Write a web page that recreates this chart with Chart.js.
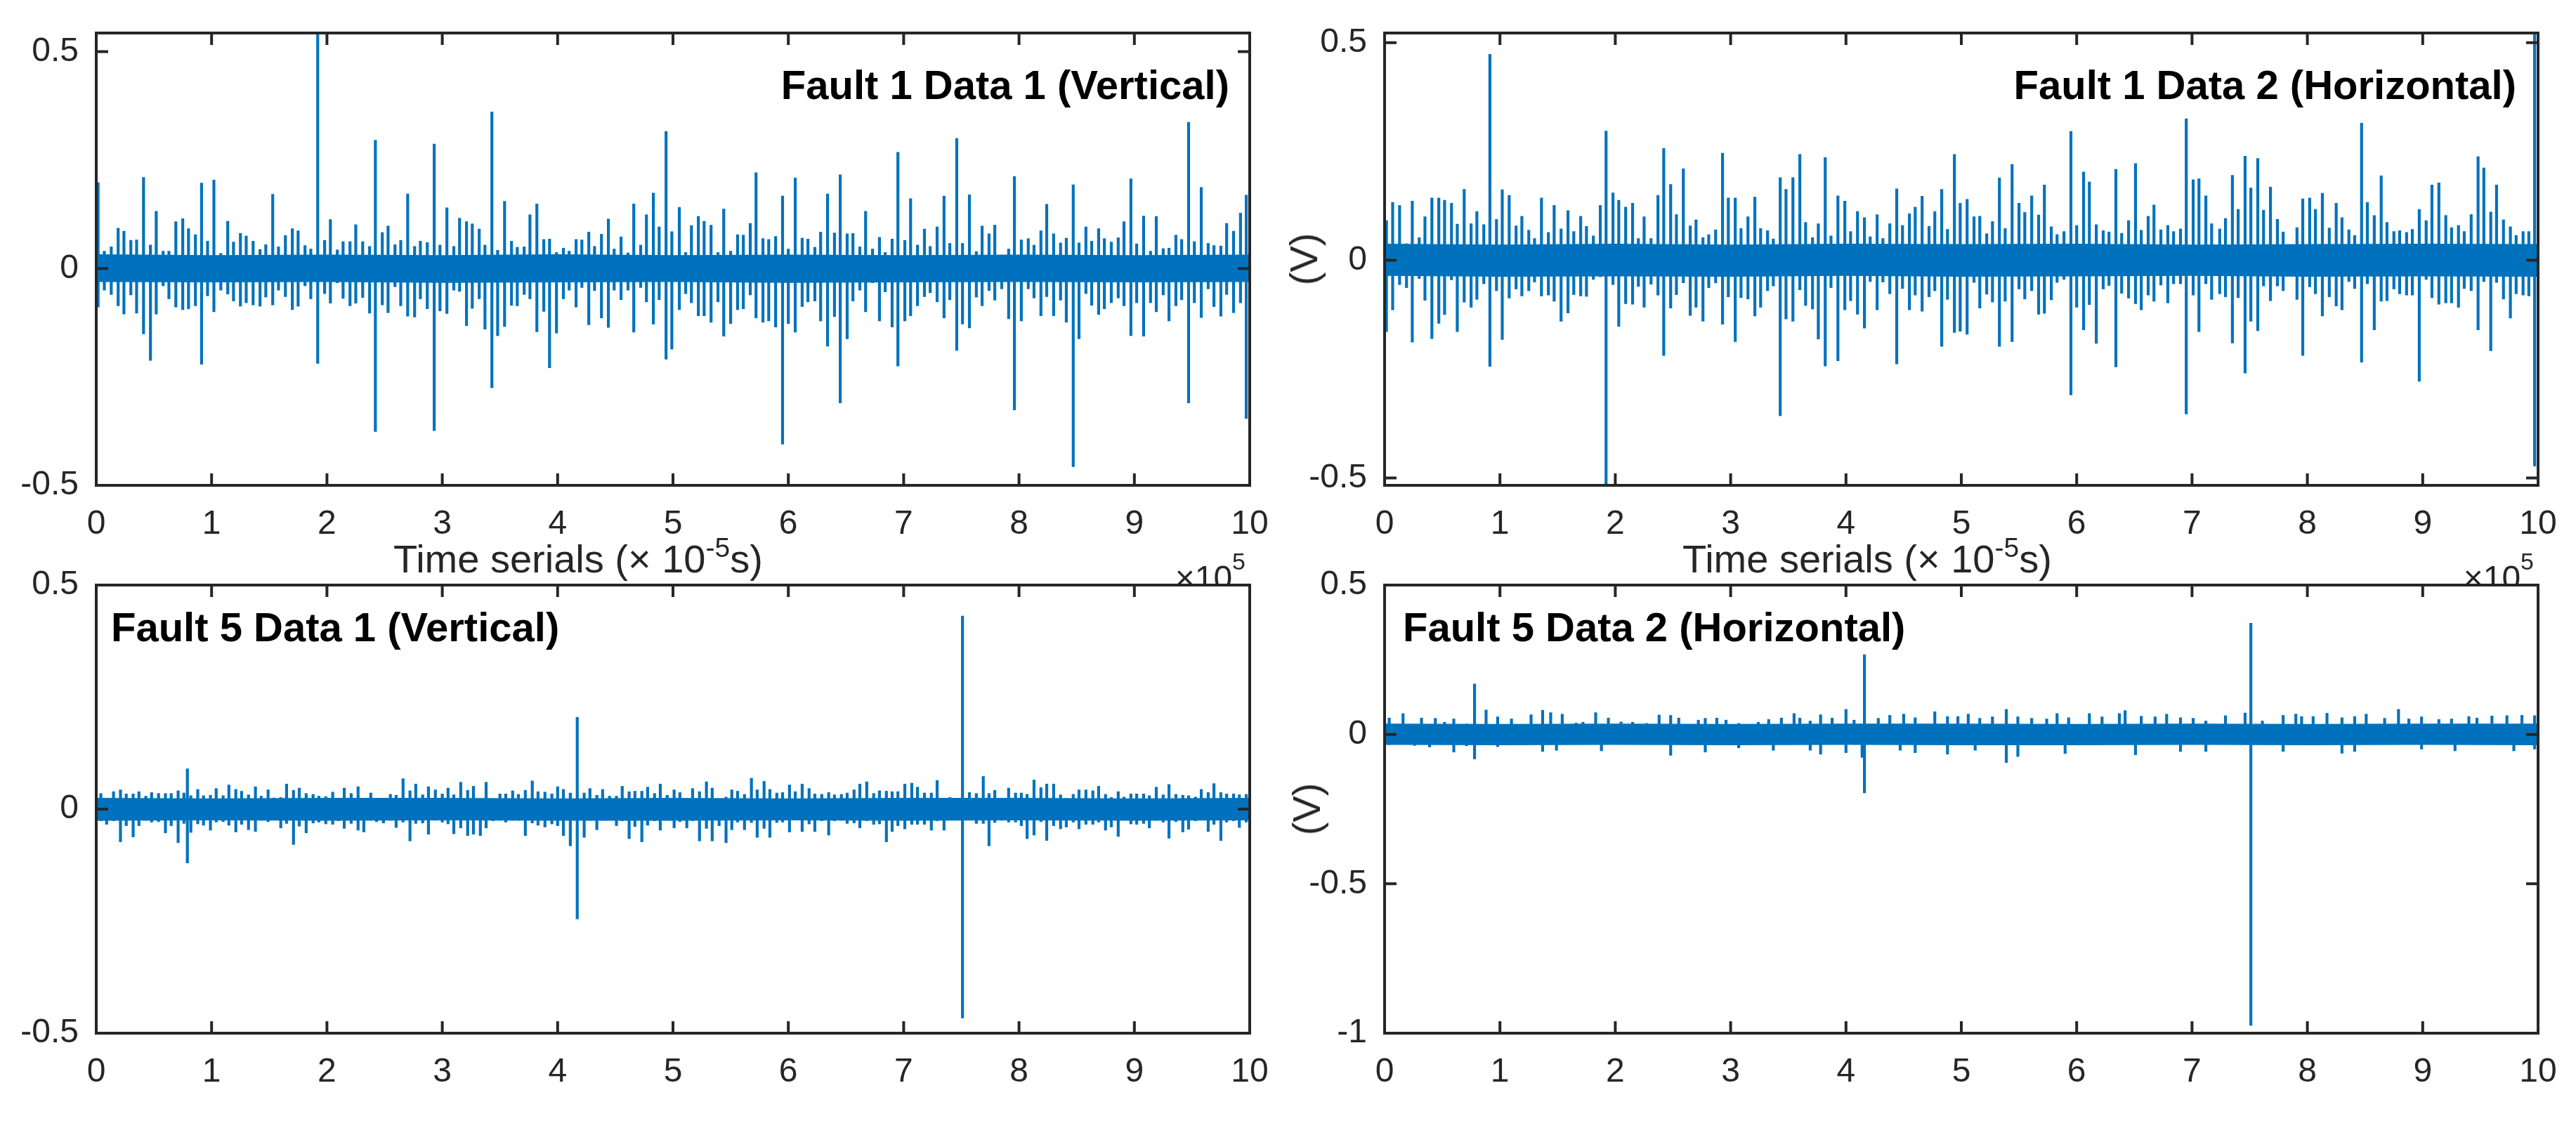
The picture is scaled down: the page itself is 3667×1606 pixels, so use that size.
<!DOCTYPE html>
<html>
<head>
<meta charset="utf-8">
<script src="https://cdn.jsdelivr.net/npm/chart.js@4.4.1/dist/chart.umd.min.js"></script>
<style>
html, body { margin: 0; padding: 0; background: #fff; overflow: hidden; }
#page { position: relative; width: 3667px; height: 1606px; font-family: "Liberation Sans", Arial, Helvetica, sans-serif; color: #262626; }
canvas { position: absolute; }
.title { position: absolute; font-weight: bold; font-size: 58px; line-height: 1; color: #000; white-space: nowrap; }
.xlabel { position: absolute; top: 768px; font-size: 56px; line-height: 1; white-space: nowrap; }
.xlabel .sup { position: relative; top: -22px; font-size: 39px; }
.ylabel { position: absolute; font-size: 56px; line-height: 1; white-space: nowrap; transform: translate(-50%, -50%) rotate(-90deg); }
.clip { position: absolute; left: 0; top: 700px; width: 3667px; height: 131px; overflow: hidden; }
.expo { position: absolute; top: 99px; font-size: 48px; line-height: 1; white-space: nowrap; }
.expo .sup { position: relative; top: -28px; font-size: 34px; }
</style>
</head>
<body>
<div id="page">
  <canvas id="f1d1" width="1833" height="800" style="left:0;top:0"></canvas>
  <canvas id="f1d2" width="1833" height="800" style="left:1834px;top:0"></canvas>
  <div class="clip">
    <div class="expo" style="right:1894px">×10<span class="sup">5</span></div>
    <div class="expo" style="right:60px">×10<span class="sup">5</span></div>
  </div>
  <canvas id="f5d1" width="1833" height="800" style="left:0;top:786px"></canvas>
  <canvas id="f5d2" width="1833" height="800" style="left:1834px;top:786px"></canvas>

  <div class="title" style="right:1917px;top:92px">Fault 1 Data 1 (Vertical)</div>
  <div class="title" style="right:85px;top:92px">Fault 1 Data 2 (Horizontal)</div>
  <div class="title" style="left:158px;top:864px">Fault 5 Data 1 (Vertical)</div>
  <div class="title" style="left:1997px;top:864px">Fault 5 Data 2 (Horizontal)</div>

  <div class="xlabel" style="left:560px">Time serials (× 10<span class="sup">-5</span>s)</div>
  <div class="xlabel" style="left:2395px">Time serials (× 10<span class="sup">-5</span>s)</div>
  <div class="ylabel" style="left:1856px;top:369px">(V)</div>
  <div class="ylabel" style="left:1860px;top:1152px">(V)</div>
</div>
<script>
const xTicks = [0, 1, 2, 3, 4, 5, 6, 7, 8, 9, 10];
const bandX = [0, 1, 2, 3, 4, 5, 6, 7, 8, 9, 10];

// Fault 1 Data 1 (Vertical): impulse positions (x10^5 samples), peak and trough
const f1d1X = [
  0.016, 0.07, 0.13, 0.19, 0.24, 0.30, 0.35, 0.41, 0.47, 0.52,
  0.58, 0.63, 0.69, 0.75, 0.80, 0.86, 0.913, 0.965, 1.02, 1.08,
  1.14, 1.19, 1.25, 1.30, 1.36, 1.42, 1.47, 1.53, 1.58, 1.64,
  1.70, 1.75, 1.81, 1.86, 1.92, 1.98, 2.03, 2.09, 2.14, 2.20,
  2.25, 2.31, 2.37, 2.42, 2.48, 2.53, 2.59, 2.64, 2.70, 2.76,
  2.81, 2.87, 2.93, 2.98, 3.04, 3.10, 3.15, 3.21, 3.26, 3.32,
  3.37, 3.43, 3.48, 3.54, 3.60, 3.65, 3.71, 3.76, 3.82, 3.88,
  3.93, 3.99, 4.05, 4.10, 4.16, 4.21, 4.27, 4.32, 4.38, 4.44,
  4.49, 4.55, 4.61, 4.66, 4.72, 4.77, 4.83, 4.88, 4.94, 4.99,
  5.055, 5.11, 5.16, 5.22, 5.27, 5.33, 5.39, 5.44, 5.50, 5.56,
  5.61, 5.67, 5.72, 5.78, 5.83, 5.89, 5.95, 6.00, 6.06, 6.12,
  6.17, 6.23, 6.28, 6.34, 6.40, 6.45, 6.51, 6.56, 6.62, 6.67,
  6.73, 6.79, 6.84, 6.90, 6.95, 7.01, 7.06, 7.12, 7.18, 7.23,
  7.29, 7.35, 7.40, 7.46, 7.51, 7.57, 7.63, 7.68, 7.74, 7.79,
  7.85, 7.91, 7.96, 8.02, 8.08, 8.13, 8.19, 8.24, 8.30, 8.36,
  8.41, 8.47, 8.52, 8.58, 8.63, 8.69, 8.74, 8.80, 8.86, 8.91,
  8.97, 9.02, 9.08, 9.14, 9.19, 9.25, 9.30, 9.36, 9.41, 9.47,
  9.52, 9.58, 9.64, 9.69, 9.75, 9.80, 9.86, 9.92, 9.97
];
const f1d1Hi = [
  .198, .040, .050, .093, .086, .065, .066, .210, .054, .132,
  .040, .040, .108, .115, .092, .078, .197, .063, .204, .035,
  .109, .061, .081, .075, .063, .044, .055, .171, .050, .076,
  .092, .087, .053, .045, .550, .065, .113, .043, .062, .062,
  .101, .062, .051, .296, .083, .098, .055, .065, .172, .051,
  .063, .060, .287, .054, .140, .051, .116, .108, .103, .091,
  .054, .361, .042, .155, .063, .049, .050, .124, .149, .067,
  .068, .037, .047, .040, .067, .066, .084, .051, .079, .114,
  .045, .073, .036, .149, .054, .124, .174, .096, .316, .085,
  .141, .037, .099, .120, .109, .100, .037, .137, .040, .078,
  .077, .104, .221, .069, .067, .074, .167, .045, .209, .070,
  .068, .049, .084, .172, .082, .216, .080, .081, .050, .132,
  .045, .072, .037, .068, .268, .065, .161, .054, .091, .051,
  .096, .167, .058, .300, .058, .170, .039, .098, .080, .100,
  .031, .045, .212, .066, .069, .054, .087, .148, .080, .059,
  .070, .193, .059, .096, .063, .092, .069, .061, .071, .108,
  .207, .057, .121, .040, .120, .046, .047, .077, .067, .337,
  .062, .187, .058, .053, .052, .104, .086, .128, .169
];
const f1d1Lo = [
  -.089, -.050, -.060, -.086, -.105, -.061, -.103, -.151, -.212, -.105,
  -.040, -.070, -.089, -.095, -.093, -.086, -.221, -.063, -.100, -.050,
  -.059, -.075, -.087, -.079, -.084, -.087, -.066, -.084, -.050, -.065,
  -.095, -.087, -.040, -.070, -.219, -.058, -.080, -.033, -.069, -.086,
  -.080, -.067, -.103, -.376, -.084, -.102, -.042, -.086, -.110, -.112,
  -.070, -.093, -.374, -.098, -.104, -.050, -.053, -.132, -.092, -.070,
  -.140, -.275, -.155, -.134, -.085, -.086, -.060, -.070, -.146, -.099,
  -.229, -.149, -.070, -.050, -.089, -.044, -.130, -.051, -.114, -.136,
  -.050, -.072, -.050, -.147, -.044, -.077, -.128, -.072, -.209, -.186,
  -.095, -.058, -.079, -.109, -.109, -.124, -.077, -.156, -.127, -.095,
  -.093, -.061, -.114, -.124, -.121, -.135, -.405, -.127, -.147, -.088,
  -.077, -.075, -.121, -.179, -.111, -.310, -.162, -.075, -.050, -.100,
  -.033, -.121, -.054, -.135, -.225, -.121, -.109, -.086, -.065, -.056,
  -.077, -.114, -.072, -.189, -.128, -.137, -.066, -.086, -.051, -.073,
  -.047, -.116, -.326, -.121, -.047, -.068, -.109, -.065, -.109, -.073,
  -.124, -.457, -.162, -.058, -.085, -.106, -.093, -.079, -.068, -.086,
  -.155, -.079, -.156, -.079, -.100, -.061, -.121, -.086, -.072, -.310,
  -.079, -.113, -.047, -.088, -.110, -.060, -.102, -.079, -.346
];
const f1d1BandHi = [0.033, 0.031, 0.032, 0.031, 0.033, 0.031, 0.032, 0.031, 0.032, 0.031, 0.032];
const f1d1BandLo = [-0.031, -0.032, -0.031, -0.033, -0.032, -0.031, -0.033, -0.032, -0.031, -0.032, -0.031];

// Fault 1 Data 2 (Horizontal)
const f1d2X = [
  0.016, 0.07, 0.13, 0.19, 0.24, 0.30, 0.35, 0.41, 0.47, 0.52,
  0.58, 0.63, 0.69, 0.75, 0.80, 0.86, 0.913, 0.97, 1.02, 1.08,
  1.14, 1.19, 1.25, 1.30, 1.36, 1.42, 1.47, 1.53, 1.59, 1.64,
  1.70, 1.75, 1.81, 1.87, 1.92, 1.98, 2.03, 2.09, 2.15, 2.20,
  2.25, 2.31, 2.37, 2.42, 2.48, 2.53, 2.59, 2.65, 2.70, 2.76,
  2.81, 2.87, 2.93, 2.98, 3.04, 3.09, 3.15, 3.21, 3.26, 3.32,
  3.37, 3.43, 3.48, 3.54, 3.60, 3.65, 3.71, 3.76, 3.82, 3.87,
  3.93, 3.99, 4.04, 4.10, 4.16, 4.21, 4.27, 4.32, 4.38, 4.44,
  4.49, 4.55, 4.60, 4.66, 4.72, 4.77, 4.83, 4.88, 4.94, 4.99,
  5.05, 5.11, 5.16, 5.22, 5.27, 5.33, 5.38, 5.44, 5.50, 5.55,
  5.61, 5.67, 5.72, 5.78, 5.83, 5.89, 5.95, 6.00, 6.06, 6.11,
  6.17, 6.23, 6.28, 6.34, 6.39, 6.45, 6.51, 6.56, 6.62, 6.67,
  6.73, 6.79, 6.84, 6.90, 6.95, 7.01, 7.06, 7.12, 7.17, 7.24,
  7.29, 7.35, 7.40, 7.46, 7.51, 7.57, 7.62, 7.68, 7.74, 7.79,
  7.85, 7.91, 7.96, 8.02, 8.07, 8.13, 8.19, 8.25, 8.30, 8.36,
  8.41, 8.47, 8.52, 8.58, 8.64, 8.69, 8.75, 8.80, 8.86, 8.91,
  8.97, 9.03, 9.08, 9.14, 9.20, 9.25, 9.31, 9.36, 9.42, 9.48,
  9.53, 9.59, 9.64, 9.70, 9.76, 9.81, 9.87, 9.92, 9.97
];
const f1d2Hi = [
  .091, .133, .126, .038, .136, .052, .100, .143, .143, .138,
  .131, .083, .163, .084, .112, .082, .473, .094, .162, .149,
  .079, .101, .069, .050, .143, .064, .126, .072, .114, .066,
  .101, .078, .056, .126, .297, .155, .138, .122, .131, .050,
  .100, .050, .149, .257, .174, .105, .210, .079, .093, .052,
  .059, .070, .246, .143, .143, .073, .100, .145, .073, .068,
  .049, .190, .163, .190, .243, .087, .052, .084, .236, .056,
  .148, .136, .066, .112, .098, .054, .105, .050, .084, .164,
  .080, .107, .122, .147, .078, .112, .163, .071, .243, .131,
  .140, .100, .101, .061, .089, .189, .073, .220, .131, .110,
  .148, .104, .173, .077, .059, .066, .296, .080, .203, .180,
  .082, .068, .065, .209, .062, .091, .222, .069, .101, .127,
  .070, .080, .066, .072, .325, .185, .187, .148, .084, .072,
  .096, .195, .117, .239, .166, .234, .115, .168, .094, .065,
  .035, .075, .141, .143, .117, .154, .074, .131, .098, .070,
  .057, .315, .133, .103, .194, .087, .066, .068, .064, .071,
  .117, .091, .173, .178, .103, .075, .080, .066, .105, .238,
  .212, .111, .173, .093, .077, .057, .066, .066, .530
];
const f1d2Lo = [
  -.164, -.114, -.056, -.063, -.188, -.042, -.092, -.180, -.145, -.125,
  -.045, -.164, -.096, -.108, -.090, -.054, -.244, -.070, -.182, -.087,
  -.066, -.082, -.070, -.050, -.082, -.080, -.094, -.140, -.121, -.079,
  -.082, -.083, -.044, -.038, -.530, -.056, -.152, -.100, -.101, -.060,
  -.108, -.055, -.080, -.219, -.110, -.079, -.052, -.127, -.108, -.140,
  -.063, -.052, -.147, -.084, -.187, -.086, -.089, -.128, -.108, -.070,
  -.059, -.357, -.135, -.140, -.068, -.104, -.112, -.181, -.243, -.063,
  -.231, -.114, -.093, -.124, -.156, -.049, -.114, -.050, -.077, -.238,
  -.065, -.114, -.080, -.117, -.084, -.070, -.198, -.090, -.166, -.163,
  -.170, -.051, -.110, -.078, -.096, -.198, -.094, -.187, -.066, -.089,
  -.070, -.124, -.122, -.091, -.051, -.044, -.309, -.108, -.160, -.102,
  -.191, -.066, -.058, -.245, -.076, -.087, -.100, -.114, -.080, -.094,
  -.057, -.098, -.054, -.054, -.353, -.080, -.164, -.054, -.090, -.077,
  -.084, -.190, -.086, -.259, -.140, -.162, -.059, -.093, -.059, -.070,
  -.030, -.090, -.219, -.061, -.077, -.128, -.084, -.105, -.114, -.049,
  -.065, -.234, -.054, -.160, -.094, -.093, -.066, -.077, -.080, -.080,
  -.278, -.044, -.086, -.101, -.098, -.098, -.108, -.065, -.070, -.160,
  -.049, -.208, -.051, -.089, -.133, -.077, -.080, -.082, -.473
];
const f1d2BandHi = [0.038, 0.036, 0.038, 0.036, 0.038, 0.037, 0.038, 0.036, 0.037, 0.038, 0.037];
const f1d2BandLo = [-0.036, -0.038, -0.037, -0.038, -0.036, -0.038, -0.037, -0.036, -0.038, -0.037, -0.038];

// Fault 5 Data 1 (Vertical)
const f5d1X = [
  0.04, 0.09, 0.15, 0.21, 0.26, 0.32, 0.37, 0.43, 0.48, 0.54,
  0.60, 0.65, 0.71, 0.76, 0.79, 0.82, 0.88, 0.93, 0.99, 1.04,
  1.10, 1.15, 1.21, 1.26, 1.32, 1.38, 1.43, 1.49, 1.54, 1.60,
  1.65, 1.71, 1.76, 1.82, 1.88, 1.93, 1.99, 2.05, 2.10, 2.15,
  2.21, 2.27, 2.32, 2.38, 2.43, 2.49, 2.55, 2.60, 2.66, 2.72,
  2.77, 2.83, 2.88, 2.94, 3.00, 3.05, 3.10, 3.16, 3.22, 3.27,
  3.33, 3.38, 3.44, 3.50, 3.55, 3.61, 3.66, 3.72, 3.78, 3.83,
  3.89, 3.95, 4.00, 4.05, 4.11, 4.17, 4.23, 4.28, 4.34, 4.39,
  4.45, 4.51, 4.56, 4.62, 4.67, 4.73, 4.78, 4.84, 4.89, 4.95,
  5.01, 5.06, 5.12, 5.17, 5.23, 5.29, 5.34, 5.40, 5.46, 5.51,
  5.56, 5.62, 5.68, 5.73, 5.79, 5.84, 5.90, 5.95, 6.01, 6.06,
  6.12, 6.18, 6.23, 6.29, 6.35, 6.40, 6.46, 6.51, 6.57, 6.62,
  6.68, 6.74, 6.79, 6.85, 6.90, 6.95, 7.01, 7.07, 7.12, 7.18,
  7.24, 7.29, 7.35, 7.40, 7.46, 7.51, 7.57, 7.63, 7.69, 7.74,
  7.79, 7.85, 7.91, 7.97, 8.02, 8.07, 8.13, 8.19, 8.24, 8.30,
  8.36, 8.41, 8.47, 8.52, 8.58, 8.64, 8.69, 8.75, 8.80, 8.86,
  8.91, 8.97, 9.02, 9.08, 9.13, 9.19, 9.25, 9.30, 9.36, 9.42,
  9.47, 9.53, 9.58, 9.64, 9.69, 9.75, 9.80, 9.86, 9.91, 9.97
];
const f5d1Hi = [
  .035, .016, .039, .043, .034, .034, .039, .029, .037, .035,
  .035, .035, .041, .036, .090, .030, .044, .030, .031, .046,
  .030, .054, .044, .040, .032, .050, .029, .043, .025, .026,
  .056, .042, .047, .035, .033, .029, .028, .038, .024, .047,
  .035, .050, .023, .036, .017, .018, .033, .031, .068, .041,
  .056, .032, .050, .043, .034, .047, .032, .060, .042, .051,
  .023, .060, .017, .034, .034, .041, .033, .042, .063, .039,
  .038, .034, .050, .044, .036, .205, .036, .046, .031, .044,
  .029, .029, .051, .039, .040, .040, .049, .035, .056, .031,
  .043, .037, .018, .046, .039, .061, .047, .016, .027, .043,
  .040, .033, .069, .043, .062, .044, .036, .037, .054, .039,
  .056, .046, .034, .033, .037, .032, .033, .036, .043, .056,
  .061, .035, .041, .040, .039, .039, .056, .058, .049, .036,
  .036, .064, .024, .026, .023, .431, .037, .035, .073, .035,
  .042, .018, .047, .036, .036, .033, .065, .048, .056, .056,
  .032, .024, .033, .043, .043, .041, .051, .033, .026, .039,
  .027, .034, .034, .034, .030, .049, .032, .055, .033, .031,
  .030, .027, .044, .037, .057, .037, .034, .034, .032, .033
];
const f5d1Lo = [
  -.026, -.034, -.026, -.073, -.037, -.062, -.037, -.025, -.029, -.028,
  -.053, -.037, -.075, -.032, -.120, -.052, -.033, -.036, -.047, -.029,
  -.028, -.036, -.051, -.034, -.046, -.050, -.025, -.028, -.021, -.042,
  -.032, -.079, -.038, -.053, -.031, -.029, -.033, -.034, -.026, -.043,
  -.032, -.047, -.051, -.025, -.028, -.031, -.025, -.041, -.029, -.071,
  -.032, -.031, -.056, -.025, -.029, -.033, -.055, -.042, -.059, -.056,
  -.059, -.042, -.026, -.025, -.029, -.025, -.025, -.059, -.031, -.036,
  -.040, -.033, -.037, -.059, -.082, -.245, -.063, -.025, -.046, -.025,
  -.024, -.037, -.026, -.066, -.039, -.073, -.036, -.026, -.047, -.025,
  -.042, -.028, -.042, -.026, -.071, -.043, -.071, -.037, -.075, -.046,
  -.029, -.046, -.030, -.063, -.043, -.063, -.030, -.029, -.051, -.024,
  -.050, -.033, -.050, -.026, -.058, -.026, -.025, -.032, -.031, -.042,
  -.026, -.034, -.033, -.073, -.050, -.037, -.044, -.034, -.034, -.034,
  -.047, -.026, -.047, -.024, -.024, -.466, -.024, -.032, -.032, -.082,
  -.030, -.025, -.029, -.029, -.037, -.066, -.058, -.028, -.070, -.037,
  -.044, -.040, -.029, -.044, -.034, -.034, -.029, -.047, -.040, -.061,
  -.024, -.033, -.034, -.032, -.042, -.025, -.029, -.065, -.028, -.051,
  -.045, -.026, -.023, -.050, -.034, -.070, -.029, -.026, -.041, -.029
];
const f5d1BandHi = [0.025, 0.024, 0.025, 0.025, 0.024, 0.025, 0.024, 0.025, 0.025, 0.024, 0.025];
const f5d1BandLo = [-0.026, -0.025, -0.026, -0.025, -0.026, -0.026, -0.025, -0.026, -0.025, -0.026, -0.025];

// Fault 5 Data 2 (Horizontal)
const f5d2X = [
  0.04, 0.16, 0.26, 0.32, 0.39, 0.44, 0.52, 0.60, 0.71, 0.78,
  0.88, 0.98, 1.10, 1.27, 1.37, 1.44, 1.49, 1.54, 1.66, 1.72,
  1.83, 1.88, 1.94, 2.05, 2.15, 2.27, 2.38, 2.48, 2.55, 2.72,
  2.78, 2.88, 2.96, 3.07, 3.24, 3.33, 3.37, 3.44, 3.55, 3.60,
  3.69, 3.78, 3.88, 4.00, 4.07, 4.14, 4.16, 4.28, 4.38, 4.47,
  4.50, 4.60, 4.77, 4.88, 4.97, 5.06, 5.12, 5.16, 5.27, 5.39,
  5.49, 5.61, 5.74, 5.83, 5.90, 5.93, 6.11, 6.22, 6.37, 6.42,
  6.51, 6.56, 6.68, 6.78, 6.90, 7.01, 7.12, 7.29, 7.46, 7.51,
  7.61, 7.79, 7.90, 7.95, 8.05, 8.17, 8.30, 8.41, 8.51, 8.67,
  8.79, 8.88, 8.99, 9.14, 9.25, 9.28, 9.40, 9.47, 9.60, 9.73,
  9.79, 9.86, 9.97
];
const f5d2Hi = [
  .055, .070, .030, .055, .030, .054, .041, .052, .035, .169,
  .082, .059, .052, .066, .081, .073, .030, .068, .038, .041,
  .073, .030, .055, .042, .041, .037, .065, .064, .055, .048,
  .054, .055, .048, .037, .041, .050, .030, .055, .070, .055,
  .045, .066, .055, .084, .048, .030, .267, .054, .064, .030,
  .068, .056, .076, .060, .060, .068, .030, .054, .059, .084,
  .059, .054, .052, .070, .030, .056, .070, .059, .070, .080,
  .030, .061, .059, .068, .056, .054, .045, .063, .072, .372,
  .045, .064, .068, .060, .060, .071, .056, .060, .068, .054,
  .084, .052, .059, .050, .052, .030, .060, .055, .062, .063,
  .030, .064, .063
];
const f5d2Lo = [
  -.034, -.030, -.037, -.030, -.042, -.030, -.030, -.059, -.038, -.082,
  -.030, -.041, -.030, -.030, -.057, -.030, -.053, -.030, -.030, -.030,
  -.030, -.055, -.030, -.030, -.030, -.030, -.030, -.070, -.030, -.030,
  -.059, -.030, -.030, -.045, -.030, -.030, -.053, -.030, -.030, -.030,
  -.053, -.066, -.030, -.061, -.030, -.077, -.196, -.030, -.030, -.053,
  -.030, -.061, -.030, -.066, -.030, -.030, -.053, -.030, -.030, -.094,
  -.074, -.030, -.030, -.030, -.064, -.030, -.030, -.030, -.030, -.030,
  -.068, -.030, -.030, -.030, -.057, -.030, -.057, -.030, -.030, -.974,
  -.030, -.057, -.030, -.030, -.030, -.030, -.063, -.057, -.030, -.030,
  -.030, -.030, -.049, -.030, -.030, -.055, -.030, -.030, -.030, -.030,
  -.055, -.030, -.049
];
const f5d2BandHi = [0.036, 0.035, 0.036, 0.035, 0.036, 0.036, 0.035, 0.036, 0.035, 0.036, 0.036];
const f5d2BandLo = [-0.035, -0.036, -0.035, -0.036, -0.035, -0.036, -0.036, -0.035, -0.036, -0.035, -0.036];

const lineBlue = '#0072BD';
const axisColor = '#262626';
const fontFamily = '"Liberation Sans", Arial, Helvetica, sans-serif';

// MATLAB-like box with inward ticks on all four sides
const matlabAxes = {
    id: 'matlabAxes',
    afterDatasetsDraw(chart) {
        const { ctx, chartArea: a, scales } = chart;
        const tickLen = 17;
        ctx.save();
        ctx.strokeStyle = axisColor;
        ctx.lineWidth = 4;
        ctx.beginPath();
        scales.x.ticks.forEach(t => {
            const px = scales.x.getPixelForValue(t.value);
            ctx.moveTo(px, a.bottom);
            ctx.lineTo(px, a.bottom - tickLen);
            ctx.moveTo(px, a.top);
            ctx.lineTo(px, a.top + tickLen);
        });
        scales.y.ticks.forEach(t => {
            const py = scales.y.getPixelForValue(t.value);
            ctx.moveTo(a.left, py);
            ctx.lineTo(a.left + tickLen, py);
            ctx.moveTo(a.right, py);
            ctx.lineTo(a.right - tickLen, py);
        });
        ctx.stroke();
        ctx.strokeRect(a.left, a.top, a.right - a.left, a.bottom - a.top);
        ctx.restore();
    }
};

function createScope(id, xs, hi, lo, bandHi, bandLo, yMin, yMax, yTicks, padBottom) {
    const tickFont = { family: fontFamily, size: 48 };
    return new Chart(document.getElementById(id), {
        type: 'bar',
        data: {
            datasets: [
                {
                    type: 'line',
                    data: bandX.map((x, i) => ({ x: x, y: bandHi[i] })),
                    borderWidth: 0,
                    pointRadius: 0,
                    backgroundColor: lineBlue,
                    fill: '+1',
                    clip: 0
                },
                {
                    type: 'line',
                    data: bandX.map((x, i) => ({ x: x, y: bandLo[i] })),
                    borderWidth: 0,
                    pointRadius: 0,
                    backgroundColor: lineBlue,
                    fill: false,
                    clip: 0
                },
                {
                    type: 'bar',
                    data: xs.map((x, i) => ({ x: x, y: [lo[i], hi[i]] })),
                    backgroundColor: lineBlue,
                    borderWidth: 0,
                    barThickness: 3.5,
                    grouped: false,
                    clip: 0
                }
            ]
        },
        options: {
            responsive: false,
            devicePixelRatio: 1,
            animation: false,
            events: [],
            layout: { padding: { left: 0, top: 47, right: 54, bottom: padBottom } },
            plugins: { legend: { display: false }, tooltip: { enabled: false } },
            scales: {
                x: {
                    type: 'linear',
                    min: 0,
                    max: 10,
                    offset: false,
                    afterBuildTicks: s => { s.ticks = xTicks.map(v => ({ value: v })); },
                    afterFit: s => { s.height = 80; },
                    grid: { display: false },
                    border: { display: false },
                    ticks: { color: axisColor, font: tickFont, padding: 19, maxRotation: 0, autoSkip: false, callback: v => String(v) }
                },
                y: {
                    type: 'linear',
                    min: yMin,
                    max: yMax,
                    afterBuildTicks: s => { s.ticks = yTicks.map(v => ({ value: v })); },
                    afterFit: s => { s.width = 137; },
                    grid: { display: false },
                    border: { display: false },
                    ticks: { color: axisColor, font: tickFont, padding: 17, autoSkip: false, callback: v => String(v) }
                }
            }
        },
        plugins: [matlabAxes]
    });
}

createScope('f1d1', f1d1X, f1d1Hi, f1d1Lo, f1d1BandHi, f1d1BandLo, -0.5, 0.543, [-0.5, 0, 0.5], 29);
createScope('f1d2', f1d2X, f1d2Hi, f1d2Lo, f1d2BandHi, f1d2BandLo, -0.517, 0.522, [-0.5, 0, 0.5], 29);
createScope('f5d1', f5d1X, f5d1Hi, f5d1Lo, f5d1BandHi, f5d1BandLo, -0.5, 0.5, [-0.5, 0, 0.5], 35);
createScope('f5d2', f5d2X, f5d2Hi, f5d2Lo, f5d2BandHi, f5d2BandLo, -1, 0.5, [-1, -0.5, 0, 0.5], 35);
</script>
</body>
</html>
